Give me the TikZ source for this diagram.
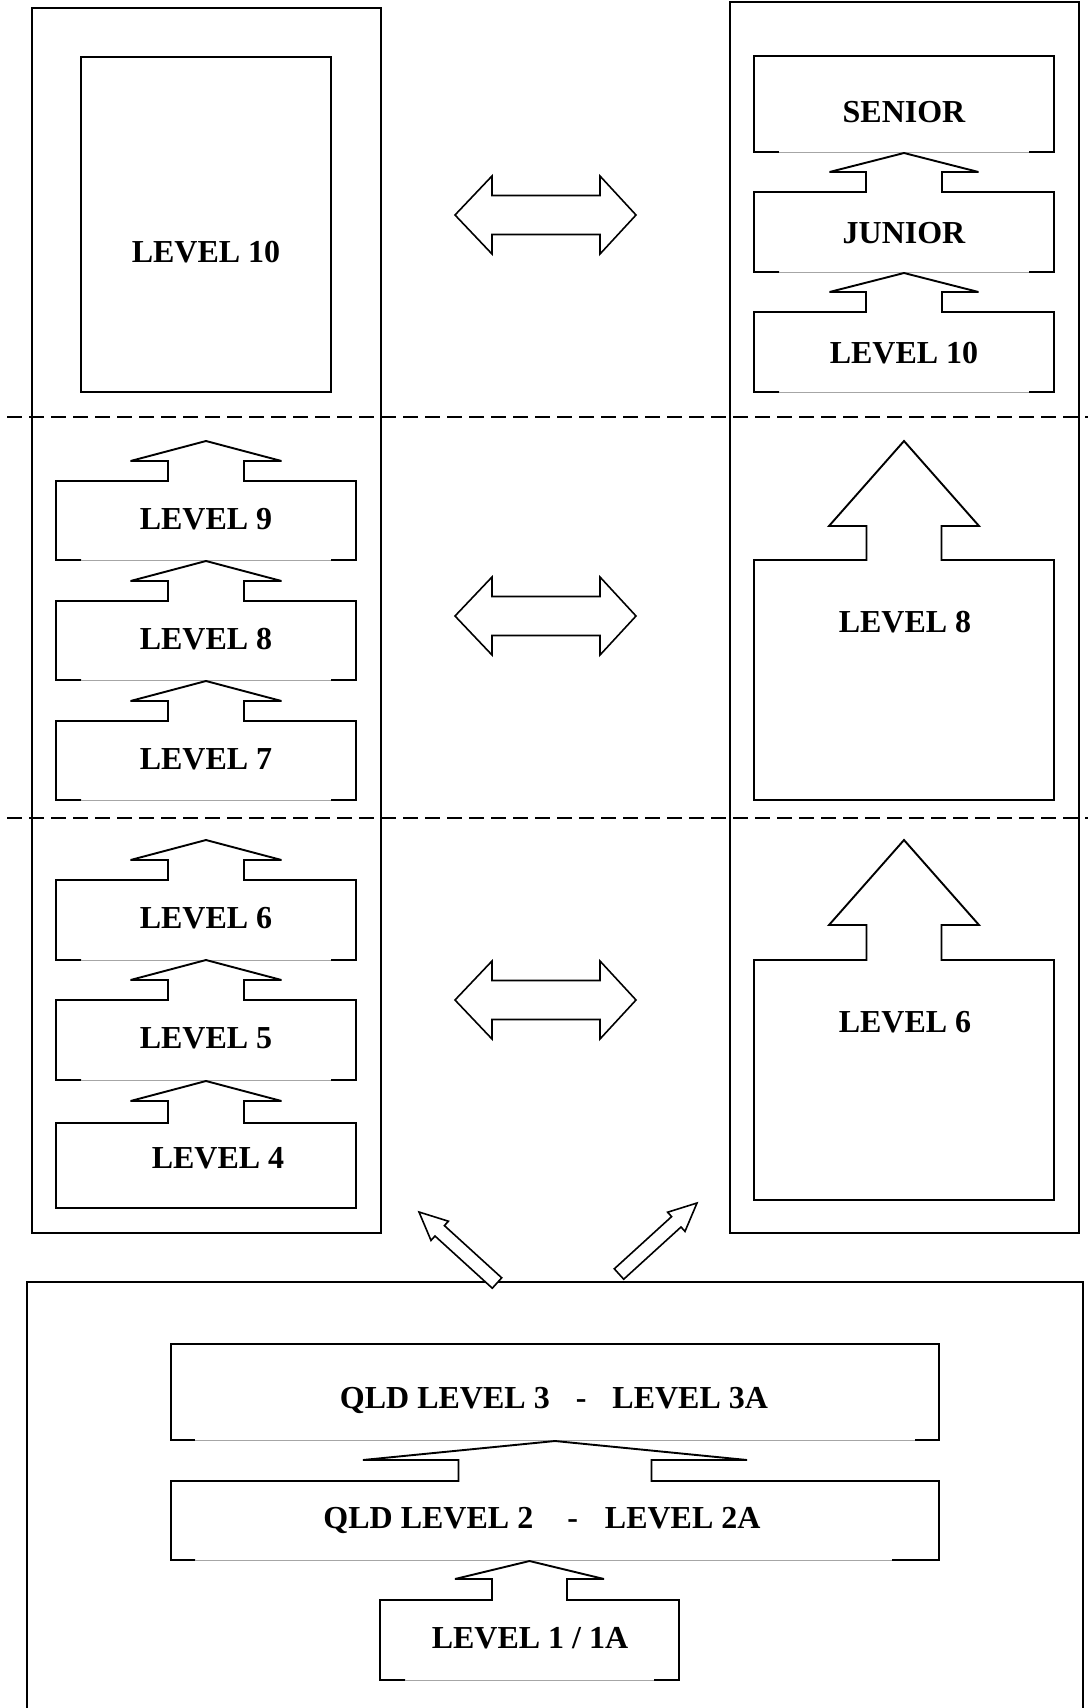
\documentclass[tikz,border=0pt]{standalone}
\usepackage{fontspec}
\setmainfont{Liberation Serif}
\tikzset{
  boxline/.style={line width=0.95pt, line join=miter, miter limit=3},
  outerline/.style={line width=1pt},
  gapline/.style={line width=0.5pt, black!35},
  dashline/.style={line width=0.9pt, dash pattern=on 7.5pt off 3.5pt},
  blockarrow/.style={line width=0.8pt, fill=white, line join=miter, miter limit=4},
  lbl/.style={font=\bfseries\fontsize{16}{19}\selectfont, inner sep=0pt, anchor=base},
}
% box with an up-arrow tab on its top edge and an open (thin) bottom
% #1 x1, #2 x2, #3 ytop, #4 ybot, #5 stem half, #6 wing half, #7 stem height, #8 head height, #9 corner
\newcommand{\tabbox}[9]{%
  \pgfmathsetmacro\tbcx{(#1+#2)/2}%
  \pgfmathsetmacro\tbsl{\tbcx-#5}\pgfmathsetmacro\tbsr{\tbcx+#5}%
  \pgfmathsetmacro\tbwl{\tbcx-#6}\pgfmathsetmacro\tbwr{\tbcx+#6}%
  \pgfmathsetmacro\tbys{#3-#7}\pgfmathsetmacro\tbyt{#3-#7-#8}%
  \pgfmathsetmacro\tbcl{#1+#9}\pgfmathsetmacro\tbcrr{#2-#9}%
  \draw[boxline] (\tbcl,#4) -- (#1,#4) -- (#1,#3) -- (\tbsl,#3) -- (\tbsl,\tbys) -- (\tbwl,\tbys)
     -- (\tbcx,\tbyt) -- (\tbwr,\tbys) -- (\tbsr,\tbys) -- (\tbsr,#3) -- (#2,#3) -- (#2,#4) -- (\tbcrr,#4);
  \draw[gapline] (\tbcl,#4) -- (\tbcrr,#4);
}
% plain box with open (thin) bottom: #1 x1, #2 x2, #3 ytop, #4 ybot, #5 corner
\newcommand{\plainopen}[5]{%
  \pgfmathsetmacro\tbcl{#1+#5}\pgfmathsetmacro\tbcrr{#2-#5}%
  \draw[boxline] (\tbcl,#4) -- (#1,#4) -- (#1,#3) -- (#2,#3) -- (#2,#4) -- (\tbcrr,#4);
  \draw[gapline] (\tbcl,#4) -- (\tbcrr,#4);
}
% horizontal double block arrow centred at height #1
\newcommand{\dblarrow}[1]{%
  \draw[blockarrow] (455,#1) -- (492,{#1-39}) -- (492,{#1-19.5}) -- (600,{#1-19.5}) -- (600,{#1-39})
     -- (636,#1) -- (600,{#1+39}) -- (600,{#1+19.5}) -- (492,{#1+19.5}) -- (492,{#1+39}) -- cycle;
}
\begin{document}
\begin{tikzpicture}[x=0.5pt,y=-0.5pt]
\useasboundingbox (0,0) rectangle (1088,1708);

% column frames
\draw[outerline] (32,8) rectangle (381,1233);
\draw[outerline] (730,2) rectangle (1079,1233);

% dashed separators
\draw[dashline] (7,417) -- (1088,417);
\draw[dashline] (7,818) -- (1088,818);

% left column
\draw[boxline] (81,57) rectangle (331,392);
\node[lbl] (lten) at (206,262) {LEVEL 10};

\tabbox{56}{356}{481}{560}{38}{75.5}{20}{20}{25}
\node[lbl] (lnine) at (206,529) {LEVEL 9};
\tabbox{56}{356}{601}{680}{38}{75.5}{20}{20}{25}
\node[lbl] (leight) at (206,649) {LEVEL 8};
\tabbox{56}{356}{721}{800}{38}{75.5}{20}{20}{25}
\node[lbl] (lseven) at (206,769) {LEVEL 7};

\tabbox{56}{356}{880}{960}{38}{75.5}{20}{20}{25}
\node[lbl] (lsix) at (206,928) {LEVEL 6};
\tabbox{56}{356}{1000}{1080}{38}{75.5}{20}{20}{25}
\node[lbl] (lfive) at (206,1048) {LEVEL 5};
\tabbox{56}{356}{1123}{1208}{38}{75.5}{22}{20}{150}
\node[lbl] (lfour) at (218,1168) {LEVEL 4};

% right column
\plainopen{754}{1054}{56}{152}{25}
\node[lbl] (rsenior) at (904,122) {SENIOR};
\tabbox{754}{1054}{192}{272}{38}{74.5}{20}{19}{25}
\node[lbl] (rjunior) at (904,243) {JUNIOR};
\tabbox{754}{1054}{312}{392}{38}{74.5}{20}{19}{25}
\node[lbl] (rten) at (904,363) {LEVEL 10};

\tabbox{754}{1054}{560}{800}{37.5}{75}{34}{85}{150}
\node[lbl] (reight) at (905,632) {LEVEL 8};
\tabbox{754}{1054}{960}{1200}{37.5}{75}{35}{85}{150}
\node[lbl] (rsix) at (905,1032) {LEVEL 6};

% equivalence arrows
\dblarrow{215}
\dblarrow{616}
\dblarrow{1000}

% bottom frame
\draw[outerline] (27,1708) -- (27,1282) -- (1083,1282) -- (1083,1708);

\plainopen{171}{939}{1344}{1440}{24}
\node[lbl] (qthree) at (554,1408) {QLD LEVEL 3\hspace{13pt}-\hspace{13pt}LEVEL 3A};
\tabbox{171}{939}{1481}{1560}{96.5}{192}{21}{19}{24}
\draw[boxline] (892,1560) -- (916,1560);
\node[lbl] (qtwo) at (542,1528) {QLD LEVEL 2\hspace{17pt}-\hspace{13.5pt}LEVEL 2A};
\tabbox{380}{679}{1600}{1680}{37.5}{74.5}{21}{18}{25}
\node[lbl] (lone) at (530,1648) {LEVEL 1 / 1A};

% diagonal arrows
\draw[blockarrow] (501.7,1277.8) -- (444.4,1225.6) -- (448.4,1221.2) -- (419,1212)
   -- (431.0,1240.4) -- (435.0,1236.0) -- (492.3,1288.2) -- cycle;
\draw[blockarrow] (623.7,1279.2) -- (681.0,1227.0) -- (685.0,1231.4) -- (697,1203)
   -- (667.6,1212.2) -- (671.6,1216.6) -- (614.3,1268.8) -- cycle;
\end{tikzpicture}
\end{document}
